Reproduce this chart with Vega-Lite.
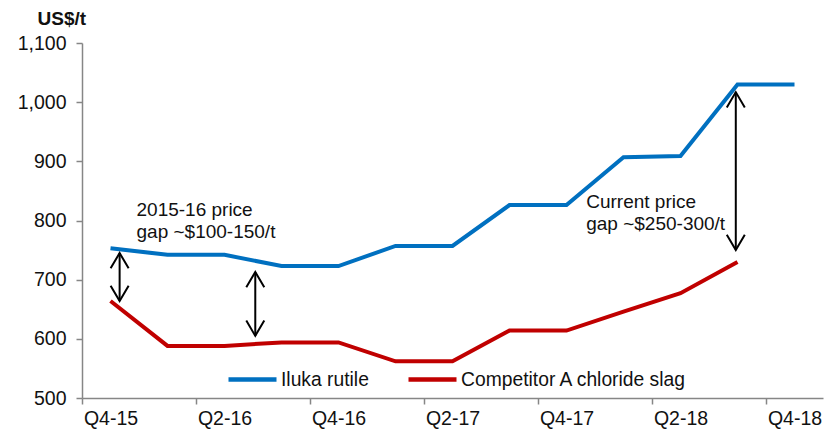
{
  "$schema": "https://vega.github.io/schema/vega-lite/v6.json",
  "width": 741,
  "height": 355,
  "autosize": {"type": "none"},
  "padding": {"left": 82, "top": 43, "right": 12, "bottom": 31},
  "background": "white",
  "config": {
    "font": "Liberation Sans",
    "view": {"stroke": null},
    "axis": {"grid": false, "domainColor": "#868686", "tickColor": "#868686", "domainWidth": 1.5, "tickWidth": 1.5, "labelColor": "#111", "labelFont": "Liberation Sans", "labelFontSize": 19.5}
  },
  "datasets": {
    "prices": [
      {"q": 0, "quarter": "Q4-15", "series": "Iluka rutile", "price": 753},
      {"q": 1, "quarter": "Q1-16", "series": "Iluka rutile", "price": 742},
      {"q": 2, "quarter": "Q2-16", "series": "Iluka rutile", "price": 742},
      {"q": 3, "quarter": "Q3-16", "series": "Iluka rutile", "price": 723},
      {"q": 4, "quarter": "Q4-16", "series": "Iluka rutile", "price": 723},
      {"q": 5, "quarter": "Q1-17", "series": "Iluka rutile", "price": 757},
      {"q": 6, "quarter": "Q2-17", "series": "Iluka rutile", "price": 757},
      {"q": 7, "quarter": "Q3-17", "series": "Iluka rutile", "price": 826},
      {"q": 8, "quarter": "Q4-17", "series": "Iluka rutile", "price": 826},
      {"q": 9, "quarter": "Q1-18", "series": "Iluka rutile", "price": 907},
      {"q": 10, "quarter": "Q2-18", "series": "Iluka rutile", "price": 909},
      {"q": 11, "quarter": "Q3-18", "series": "Iluka rutile", "price": 1030},
      {"q": 12, "quarter": "Q4-18", "series": "Iluka rutile", "price": 1030},
      {"q": 0, "quarter": "Q4-15", "series": "Competitor A chloride slag", "price": 664},
      {"q": 1, "quarter": "Q1-16", "series": "Competitor A chloride slag", "price": 588},
      {"q": 2, "quarter": "Q2-16", "series": "Competitor A chloride slag", "price": 588},
      {"q": 3, "quarter": "Q3-16", "series": "Competitor A chloride slag", "price": 594},
      {"q": 4, "quarter": "Q4-16", "series": "Competitor A chloride slag", "price": 594},
      {"q": 5, "quarter": "Q1-17", "series": "Competitor A chloride slag", "price": 562},
      {"q": 6, "quarter": "Q2-17", "series": "Competitor A chloride slag", "price": 562},
      {"q": 7, "quarter": "Q3-17", "series": "Competitor A chloride slag", "price": 614},
      {"q": 8, "quarter": "Q4-17", "series": "Competitor A chloride slag", "price": 614},
      {"q": 9, "quarter": "Q1-18", "series": "Competitor A chloride slag", "price": 646},
      {"q": 10, "quarter": "Q2-18", "series": "Competitor A chloride slag", "price": 677},
      {"q": 11, "quarter": "Q3-18", "series": "Competitor A chloride slag", "price": 730}
    ],
    "arrows": [
      {"x": 0.16, "top": 745, "bottom": 664},
      {"x": 2.54, "top": 713, "bottom": 605},
      {"x": 10.97, "top": 1017, "bottom": 750}
    ],
    "notes": [
      {"x": 0.456, "y": 818, "text": "2015-16 price"},
      {"x": 0.456, "y": 780, "text": "gap ~$100-150/t"},
      {"x": 8.346, "y": 832, "text": "Current price"},
      {"x": 8.346, "y": 794, "text": "gap ~$250-300/t"}
    ]
  },
  "layer": [
    {
      "data": {"name": "prices"},
      "mark": {"type": "line", "strokeWidth": 4},
      "encoding": {
        "x": {
          "field": "q", "type": "quantitative",
          "scale": {"domain": [-0.5, 12.5], "nice": false, "zero": false},
          "axis": {
            "title": null,
            "values": [0, 2, 4, 6, 8, 10, 12],
            "labelExpr": "['Q4-15','Q1-16','Q2-16','Q3-16','Q4-16','Q1-17','Q2-17','Q3-17','Q4-17','Q1-18','Q2-18','Q3-18','Q4-18'][datum.value]",
            "tickOffset": -28.5,
            "labelOffset": 28.5,
            "tickSize": 6,
            "labelPadding": 5,
            "labelFlush": false,
            "labelOverlap": false
          }
        },
        "y": {
          "field": "price", "type": "quantitative",
          "scale": {"domain": [500, 1100], "nice": false, "zero": false},
          "axis": {
            "values": [500, 600, 700, 800, 900, 1000, 1100],
            "format": ",.0f",
            "tickSize": 6,
            "labelPadding": 10,
            "title": "US$/t",
            "titleAngle": 0,
            "titleFontWeight": "bold",
            "titleFontSize": 19,
            "titleColor": "#111",
            "titleAlign": "left",
            "titleBaseline": "middle",
            "titleX": -45,
            "titleY": -25
          }
        },
        "color": {
          "field": "series", "type": "nominal",
          "scale": {"domain": ["Iluka rutile", "Competitor A chloride slag"], "range": ["#0070C0", "#C00000"]},
          "legend": {
            "title": null,
            "orient": "none",
            "legendX": 144,
            "legendY": 310,
            "direction": "horizontal",
            "symbolType": "stroke",
            "symbolSize": 2304,
            "symbolStrokeWidth": 4.5,
            "labelFontSize": 19.3,
            "labelColor": "#111",
            "labelOffset": 2,
            "columnPadding": 30,
            "labelLimit": 400
          }
        }
      }
    },
    {
      "data": {"name": "arrows"},
      "mark": {"type": "rule", "color": "black", "strokeWidth": 2},
      "encoding": {
        "x": {"field": "x", "type": "quantitative"},
        "y": {"field": "top", "type": "quantitative"},
        "y2": {"field": "bottom"}
      }
    },
    {
      "data": {"name": "arrows"},
      "mark": {"type": "point", "shape": "M-1,1.7L0,0L1,1.7", "filled": false, "stroke": "black", "strokeWidth": 2, "size": 324, "opacity": 1},
      "encoding": {
        "x": {"field": "x", "type": "quantitative"},
        "y": {"field": "top", "type": "quantitative"}
      }
    },
    {
      "data": {"name": "arrows"},
      "mark": {"type": "point", "shape": "M-1,-1.7L0,0L1,-1.7", "filled": false, "stroke": "black", "strokeWidth": 2, "size": 324, "opacity": 1},
      "encoding": {
        "x": {"field": "x", "type": "quantitative"},
        "y": {"field": "bottom", "type": "quantitative"}
      }
    },
    {
      "data": {"name": "notes"},
      "mark": {"type": "text", "align": "left", "baseline": "middle", "fontSize": 19, "color": "#111", "font": "Liberation Sans"},
      "encoding": {
        "x": {"field": "x", "type": "quantitative"},
        "y": {"field": "y", "type": "quantitative"},
        "text": {"field": "text"}
      }
    }
  ]
}
